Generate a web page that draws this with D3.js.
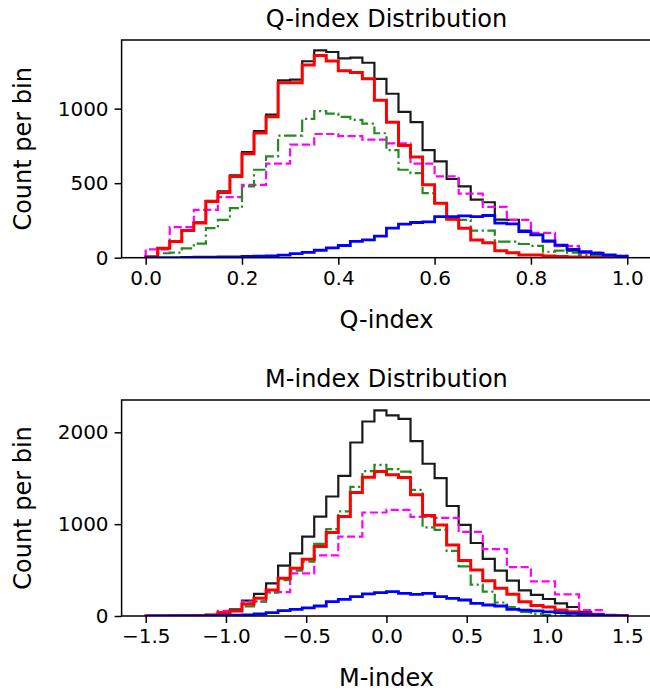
<!DOCTYPE html>
<html>
<head>
<meta charset="utf-8">
<script src="https://cdn.jsdelivr.net/npm/d3@7"></script>
<style>
  body { margin: 0; background: #fff; }
  text { font-family: "DejaVu Sans", sans-serif; fill: #000; }
</style>
</head>
<body>
<div id="chart"></div>
<script>
// bin ranges of the two histograms
var qRange = [0, 1]
var mRange = [-1.5, 1.5]

// Q-index counts per bin (40 bins of 0.025, magenta uses 20 bins of 0.05)
var qBlack = [5, 64, 110, 185, 237, 382, 445, 553, 708, 850, 960, 1190, 1195, 1318, 1391, 1380, 1337, 1342, 1308, 1200,
              1100, 978, 909, 722, 646, 528, 478, 390, 372, 256, 254, 182, 153, 110, 80, 48, 34, 18, 10, 3]
var qRed = [5, 63, 108, 182, 233, 377, 438, 545, 698, 837, 945, 1174, 1174, 1292, 1357, 1319, 1255, 1243, 1200, 1057,
            909, 752, 676, 489, 366, 258, 198, 119, 101, 47, 34, 18, 18, 11, 8, 5, 3, 2, 1, 0]
var qGreen = [8, 30, 34, 63, 95, 198, 254, 332, 478, 590, 680, 819, 819, 931, 983, 967, 945, 925, 900, 835,
              722, 590, 568, 433, 366, 256, 254, 182, 182, 108, 108, 92, 79, 40, 47, 34, 18, 18, 8, 3]
var qBlue = [0, 0, 1, 2, 3, 4, 5, 6, 8, 10, 12, 17, 28, 36, 50, 66, 82, 110, 119, 145,
             198, 225, 236, 240, 276, 276, 281, 276, 283, 232, 227, 175, 153, 112, 85, 56, 40, 30, 18, 11]
var qMagenta = [56, 205, 321, 406, 489, 631, 758, 830, 816, 792, 767, 631, 545, 430, 341, 254, 166, 77, 34, 13]

// M-index counts per bin (40 bins of 0.075, magenta uses 20 bins of 0.15)
var mBlack = [1, 2, 2, 3, 5, 12, 36, 73, 167, 240, 356, 549, 683, 865, 1083, 1301, 1526, 1889, 2118, 2240,
              2184, 2147, 1904, 1658, 1501, 1198, 992, 795, 621, 494, 385, 278, 229, 185, 138, 98, 44, 20, 8, 3]
var mRed = [1, 1, 2, 3, 5, 10, 36, 55, 131, 193, 283, 411, 520, 618, 756, 908, 1083, 1344, 1511, 1573,
            1537, 1508, 1319, 1094, 992, 774, 605, 501, 383, 302, 238, 156, 115, 98, 65, 47, 25, 20, 8, 3]
var mGreen = [0, 0, 1, 2, 4, 8, 25, 60, 105, 160, 254, 390, 494, 592, 785, 945, 1140, 1405, 1577, 1646,
              1599, 1573, 1373, 965, 937, 710, 540, 342, 265, 147, 98, 44, 24, 11, 5, 3, 2, 1, 0, 0]
var mBlue = [0, 0, 0, 1, 2, 4, 6, 8, 11, 22, 36, 58, 73, 89, 109, 156, 182, 211, 240, 254,
             265, 247, 236, 247, 211, 193, 174, 138, 120, 109, 73, 65, 55, 44, 36, 29, 18, 11, 5, 2]
var mMagenta = [0, 3, 11, 55, 156, 260, 465, 660, 865, 1127, 1155, 1079, 1068, 915, 728, 532, 378, 235, 65, 11]

// tick values
var qXTicks = [0, 0.2, 0.4, 0.6, 0.8, 1.0]
var qYTicks = [0, 500, 1000]
var mXTicks = [-1.5, -1.0, -0.5, 0, 0.5, 1.0, 1.5]
var mYTicks = [0, 1000, 2000]

var width = 650, height = 695

var svg = d3.select("#chart")
  .append("svg")
    .attr("width", width)
    .attr("height", height)

// line styles, drawn in this order
var styles = {
  black:   { color: "#1a1a1a", width: 2.2, dash: null },
  magenta: { color: "#ff00ff", width: 2.2, dash: "8.2,3.5" },
  green:   { color: "#228b22", width: 2.2, dash: "12.5,3.5,2.2,3.5" },
  red:     { color: "#ff0000", width: 3, dash: null },
  blue:    { color: "#0000ff", width: 2.8, dash: null }
}

function drawPanel(opts) {
  var all = [].concat(opts.series.black, opts.series.red, opts.series.green, opts.series.blue, opts.series.magenta)
  var span = opts.range[1] - opts.range[0]

  // matplotlib style 5% margins on x, and on top of y
  var x = d3.scaleLinear()
    .domain([opts.range[0] - 0.05 * span, opts.range[1] + 0.05 * span])
    .range([121.6, 651.3])
  var y = d3.scaleLinear()
    .domain([0, d3.max(all) * 1.05])
    .range([opts.bottom, opts.top])

  var g = svg.append("g")

  // step outline for one histogram
  var line = d3.line().x(function(d) { return x(d[0]) }).y(function(d) { return y(d[1]) })
  function stepPoints(values) {
    var n = values.length
    var edges = d3.range(n + 1).map(function(i) { return opts.range[0] + i * span / n })
    var pts = [[edges[0], 0]]
    values.forEach(function(v, i) {
      pts.push([edges[i], v])
      pts.push([edges[i + 1], v])
    })
    pts.push([edges[n], 0])
    return pts
  }

  var clip = "clip" + opts.id
  g.append("clipPath").attr("id", clip)
    .append("rect")
      .attr("x", x.range()[0]).attr("y", opts.top)
      .attr("width", x.range()[1] - x.range()[0]).attr("height", opts.bottom - opts.top)

  var lines = g.append("g").attr("clip-path", "url(#" + clip + ")")
  ;["black", "magenta", "green", "red", "blue"].forEach(function(key) {
    var s = styles[key]
    lines.append("path")
      .attr("d", line(stepPoints(opts.series[key])))
      .attr("fill", "none")
      .attr("stroke", s.color)
      .attr("stroke-width", s.width)
      .attr("stroke-linejoin", "miter")
      .attr("stroke-dasharray", s.dash)
  })

  // axes
  var fmt = function(d) { return d3.format(".1f")(d).replace("-", "\u2212") }
  var xAxis = g.append("g")
    .attr("transform", "translate(0," + opts.bottom + ")")
    .call(d3.axisBottom(x).tickValues(opts.xTicks).tickFormat(fmt).tickSize(7).tickPadding(6))
  var yAxis = g.append("g")
    .attr("transform", "translate(" + x.range()[0] + ",0)")
    .call(d3.axisLeft(y).tickValues(opts.yTicks).tickFormat(d3.format("d")).tickSize(7).tickPadding(6))
  ;[xAxis, yAxis].forEach(function(a) {
    a.select(".domain").remove()
    a.selectAll("line").attr("stroke", "#000").attr("stroke-width", 1.5)
    a.selectAll("text").style("font-size", "20px").attr("fill", "#000")
  })

  // spines
  g.append("rect")
    .attr("x", x.range()[0]).attr("y", opts.top)
    .attr("width", x.range()[1] - x.range()[0]).attr("height", opts.bottom - opts.top)
    .attr("fill", "none").attr("stroke", "#000").attr("stroke-width", 1.5)

  // titles
  var cx = (x.range()[0] + x.range()[1]) / 2
  g.append("text")
    .attr("x", cx).attr("y", opts.top - 13)
    .attr("text-anchor", "middle")
    .style("font-size", "24px")
    .text(opts.title)
  g.append("text")
    .attr("x", cx).attr("y", opts.bottom + 70)
    .attr("text-anchor", "middle")
    .style("font-size", "24px")
    .text(opts.xLabel)
  g.append("text")
    .attr("transform", "translate(31," + (opts.top + opts.bottom) / 2 + ") rotate(-90)")
    .attr("text-anchor", "middle")
    .style("font-size", "24px")
    .text("Count per bin")
}

drawPanel({
  id: "q", range: qRange, top: 40, bottom: 257.7,
  series: { black: qBlack, red: qRed, green: qGreen, blue: qBlue, magenta: qMagenta },
  xTicks: qXTicks, yTicks: qYTicks,
  title: "Q-index Distribution", xLabel: "Q-index"
})

drawPanel({
  id: "m", range: mRange, top: 400, bottom: 616,
  series: { black: mBlack, red: mRed, green: mGreen, blue: mBlue, magenta: mMagenta },
  xTicks: mXTicks, yTicks: mYTicks,
  title: "M-index Distribution", xLabel: "M-index"
})
</script>
</body>
</html>
